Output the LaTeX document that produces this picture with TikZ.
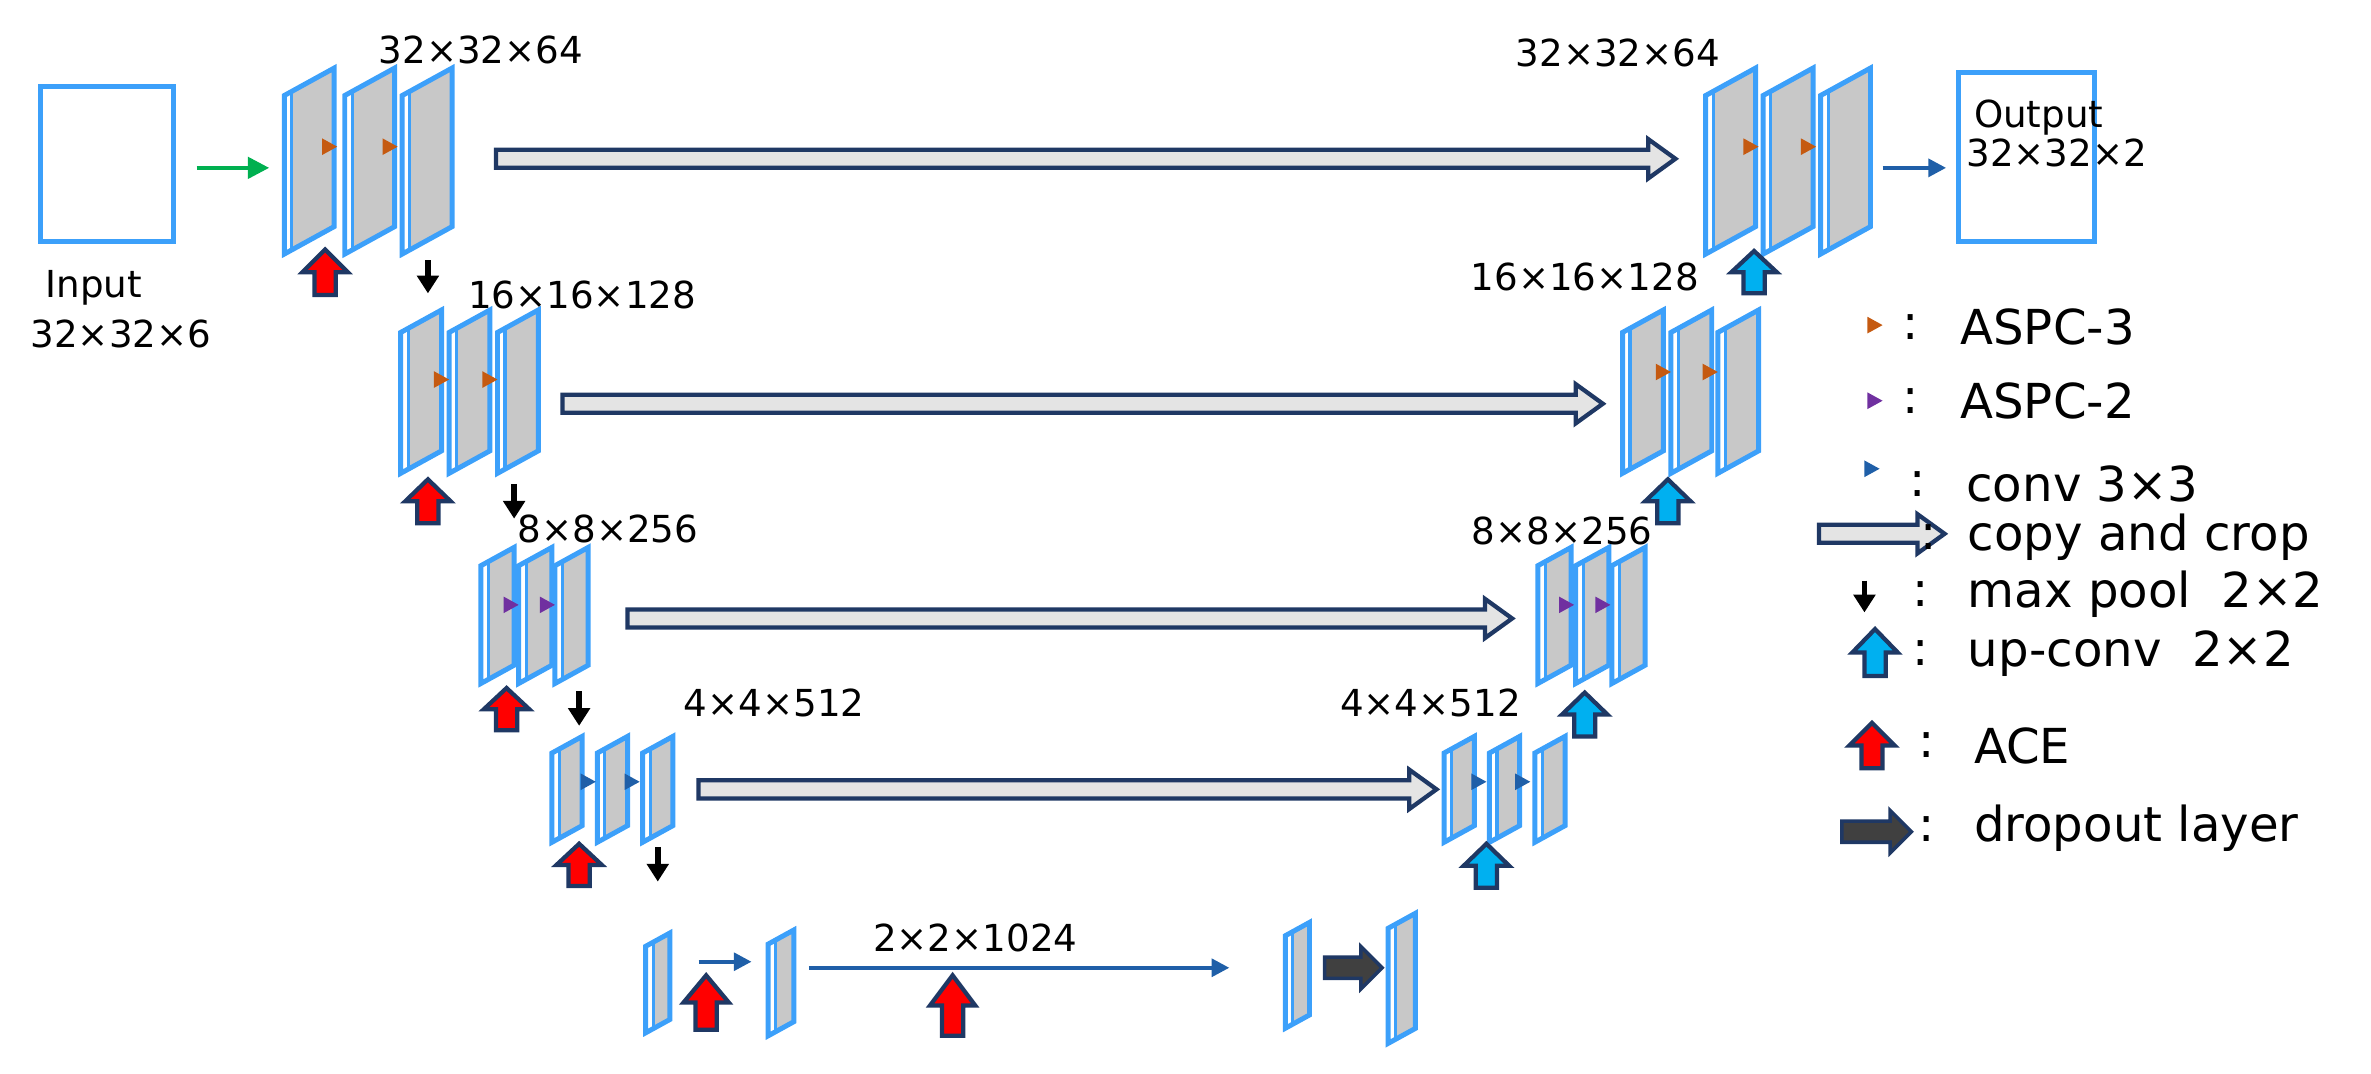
\documentclass[tikz,border=0pt]{standalone}
\usepackage{fontspec}
\setmainfont{DejaVu Sans}
\usetikzlibrary{arrows.meta}
\definecolor{slabblue}{RGB}{60,160,250}
\definecolor{slabgray}{RGB}{200,200,200}
\definecolor{navy}{RGB}{31,56,100}
\definecolor{upcyan}{RGB}{0,176,240}
\definecolor{copyfill}{RGB}{228,228,228}
\definecolor{orng}{RGB}{197,90,17}
\definecolor{purp}{RGB}{112,48,160}
\definecolor{convblue}{RGB}{31,95,168}
\definecolor{dropfill}{RGB}{64,64,64}
\definecolor{grn}{RGB}{0,176,80}
\tikzset{
 slabline/.style={draw=slabblue,line width=1.4pt,line join=miter},
 lbl/.style={font=\fontsize{10.5pt}{12pt}\selectfont,inner sep=0pt},
 leg/.style={font=\fontsize{13.6pt}{15pt}\selectfont,inner sep=0pt,anchor=west},
 pool/.style={-{Triangle[width=6pt,length=5pt]},line width=1.6pt,black},
 thinarr/.style={-{Triangle[width=5pt,length=5pt]},line width=1.1pt,convblue}
}
\newcommand\slabx[4]{%
 \pgfmathsetmacro\sd{#4*0.55}%
 \fill[white] (#1,#2+\sd) -- (#1+#4,#2) -- (#1+#4,#3-\sd) -- (#1,#3) -- cycle;
 \fill[slabgray] (#1+5,#2+\sd-3) -- (#1+#4,#2) -- (#1+#4,#3-\sd) -- (#1+5,#3-3) -- cycle;
 \draw[slabline] (#1,#2+\sd) -- (#1+#4,#2) -- (#1+#4,#3-\sd) -- (#1,#3) -- cycle;
 \draw[draw=slabblue,line width=0.9pt] (#1+5,#2+\sd-3) -- (#1+5,#3-3);
}
\newcommand\tri[3]{\fill[#3] (#1-5,#2-5.5) -- (#1+5,#2) -- (#1-5,#2+5.5) -- cycle;}
\newcommand\uparr[4]{% cx by ty fill
 \pgfmathsetmacro\my{#2+(#3-#2)*0.5}%
 \filldraw[fill=#4,draw=navy,line width=1.2pt,line join=miter] (#1-7,#2) -- (#1+7,#2) -- (#1+7,\my) -- (#1+15,\my) -- (#1,#3) -- (#1-15,\my) -- (#1-7,\my) -- cycle;
}
\newcommand\copyarr[3]{%
 \filldraw[fill=copyfill,draw=navy,line width=1.2pt,line join=miter] (#1,#3-6) -- (#2-18,#3-6) -- (#2-18,#3-13) -- (#2,#3) -- (#2-18,#3+13) -- (#2-18,#3+6) -- (#1,#3+6) -- cycle;
}
\newcommand\droparr[3]{%
 \filldraw[fill=dropfill,draw=navy,line width=1pt,line join=miter] (#1,#3-7) -- (#2-14,#3-7) -- (#2-14,#3-14) -- (#2,#3) -- (#2-14,#3+14) -- (#2-14,#3+7) -- (#1,#3+7) -- cycle;
}
\begin{document}
\begin{tikzpicture}[x=0.015cm,y=-0.015cm]
\useasboundingbox (0,0) rectangle (1568,710);
% input / output
\draw[slabblue,line width=1.4pt] (27,57) rectangle (115,160);
\node[lbl] (inl) at (62,190) {Input};
\node[lbl] (ins) at (80,221) {32×32×6};
\draw[-{Triangle[width=6pt,length=6pt]},line width=1.1pt,grn] (130,111) -- (178,111);
\draw[slabblue,line width=1.4pt] (1295,48) rectangle (1385,160);
\node[lbl,anchor=west] (outl) at (1305,78) {Output};
\node[lbl,anchor=west] (outs) at (1300,101) {32×32×2};
\draw[thinarr] (1245,111) -- (1287,111);
% level 1
\slabx{188}{45}{168}{33}\slabx{228}{45}{168}{33}\slabx{266}{45}{168}{33}
\tri{218}{97}{orng}\tri{258}{97}{orng}
\node[lbl] (l1) at (318,33) {32×32×64};
\uparr{215}{195}{165}{red}
\copyarr{328}{1108}{105}
\draw[pool] (283,172) -- (283,194);
\slabx{1128}{45}{168}{33}\slabx{1166}{45}{168}{33}\slabx{1204}{45}{168}{33}
\tri{1158}{97}{orng}\tri{1196}{97}{orng}
\node[lbl] (r1) at (1070,35) {32×32×64};
\uparr{1160}{194}{166}{upcyan}
% level 2
\slabx{265}{205}{313}{27}\slabx{297}{205}{313}{27}\slabx{329}{205}{313}{27}
\tri{292}{251}{orng}\tri{324}{251}{orng}
\node[lbl] (l2) at (385,195) {16×16×128};
\uparr{283}{346}{317}{red}
\copyarr{372}{1060}{267}
\draw[pool] (340,320) -- (340,343);
\slabx{1073}{205}{313}{27}\slabx{1105}{205}{313}{27}\slabx{1136}{205}{313}{27}
\tri{1100}{246}{orng}\tri{1131}{246}{orng}
\node[lbl] (r2) at (1048,183) {16×16×128};
\uparr{1103}{346}{317}{upcyan}
% level 3
\slabx{318}{362}{452}{22}\slabx{343}{362}{452}{22}\slabx{367}{362}{452}{22}
\tri{338}{400}{purp}\tri{362}{400}{purp}
\node[lbl] (l3) at (402,350) {8×8×256};
\uparr{335}{483}{455}{red}
\copyarr{415}{1000}{409}
\draw[pool] (383,457) -- (383,480);
\slabx{1017}{362}{452}{22}\slabx{1042}{362}{452}{22}\slabx{1066}{362}{452}{22}
\tri{1036}{400}{purp}\tri{1060}{400}{purp}
\node[lbl] (r3) at (1033,351) {8×8×256};
\uparr{1048}{487}{458}{upcyan}
% level 4
\slabx{365}{487}{557}{20}\slabx{395}{487}{557}{20}\slabx{425}{487}{557}{20}
\tri{389}{517}{convblue}\tri{418}{517}{convblue}
\node[lbl] (l4) at (512,465) {4×4×512};
\uparr{383}{586}{558}{red}
\copyarr{462}{950}{522}
\draw[pool] (435,560) -- (435,583);
\slabx{955}{487}{557}{20}\slabx{985}{487}{557}{20}\slabx{1015}{487}{557}{20}
\tri{978}{517}{convblue}\tri{1007}{517}{convblue}
\node[lbl] (r4) at (946,465) {4×4×512};
\uparr{983}{587}{558}{upcyan}
% bottom
\slabx{427}{617}{683}{16}\slabx{508}{615}{685}{17}
\draw[thinarr] (462,636) -- (497,636);
\uparr{467}{681}{645}{red}
\draw[thinarr] (535,640) -- (813,640);
\node[lbl] (bt) at (645,620) {2×2×1024};
\uparr{630}{685}{645}{red}
\slabx{850}{610}{680}{16}\slabx{918}{604}{690}{18}
\droparr{876}{914}{640}
% legend
\tri{1240}{215}{orng}\node[leg] (g1c) at (1258,216) {:};\node[leg] (g1) at (1296,216) {ASPC-3};
\tri{1240}{265}{purp}\node[leg] (g2c) at (1258,265) {:};\node[leg] (g2) at (1296,265) {ASPC-2};
\tri{1238}{310}{convblue}\node[leg] (g3c) at (1262,320) {:};\node[leg] (g3) at (1300,320) {conv 3×3};
\copyarr{1203}{1286}{353}\node[leg] (g4c) at (1264,355) {\,:};\node[leg] (g4) at (1301,355) {copy and crop};
\draw[pool] (1233,384) -- (1233,405);\node[leg] (g5c) at (1264,393) {:};\node[leg] (g5) at (1301,393) {max pool \ 2×2};
\uparr{1240}{447}{416}{upcyan}\node[leg] (g6c) at (1264,432) {:};\node[leg] (g6) at (1301,432) {up-conv \ 2×2};
\uparr{1238}{508}{478}{red}\node[leg] (g7c) at (1268,493) {:};\node[leg] (g7) at (1305,493) {ACE};
\droparr{1218}{1264}{550}\node[leg] (g8c) at (1268,548) {:};\node[leg] (g8) at (1305,548) {dropout layer};
\end{tikzpicture}
\end{document}
